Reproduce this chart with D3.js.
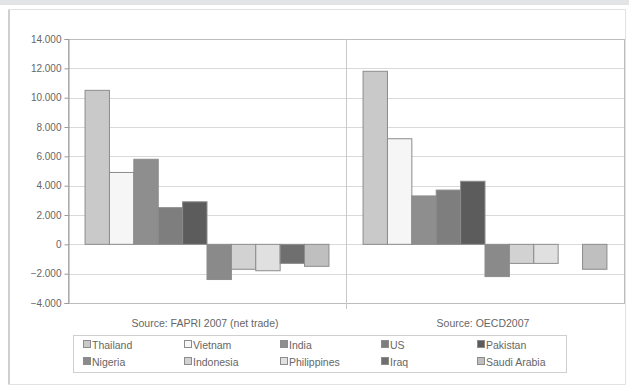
<!DOCTYPE html>
<html>
<head>
<meta charset="utf-8">
<script src="https://cdn.jsdelivr.net/npm/d3@7/dist/d3.min.js"></script>
<style>
  html, body { margin: 0; padding: 0; background: #ffffff; }
  svg { display: block; font-family: Arial, "Liberation Sans", sans-serif; }
</style>
</head>
<body>
<svg id="chart" width="629" height="390"></svg>
<script>
// Rice net trade by country, two sources (thousand tonnes)
const sources = ["Source: FAPRI 2007 (net trade)", "Source: OECD2007"];
const countries = ["Thailand", "Vietnam", "India", "US", "Pakistan",
                   "Nigeria", "Indonesia", "Philippines", "Iraq", "Saudi Arabia"];
const fapri = [10500, 4900, 5800, 2500, 2900, -2400, -1700, -1800, -1300, -1500];
const oecd  = [11800, 7200, 3300, 3700, 4300, -2200, -1300, -1300, null, -1700];
const yTicks = [-4000, -2000, 0, 2000, 4000, 6000, 8000, 10000, 12000, 14000];
const fills = ["#c9c9c9", "#f6f6f6", "#8e8e8e", "#7e7e7e", "#5c5c5c",
               "#8a8a8a", "#d2d2d2", "#e0e0e0", "#6f6f6f", "#bfbfbf"];

const svg = d3.select("#chart");

// page frame
svg.append("rect").attr("x", 0).attr("y", 0).attr("width", 629).attr("height", 5).attr("fill", "#e3e4e6");
svg.append("rect").attr("x", 8.5).attr("y", 9.5).attr("width", 617).attr("height", 375)
  .attr("fill", "#ffffff").attr("stroke", "#e2e2e2").attr("stroke-width", 1);
svg.append("line").attr("x1", 9).attr("x2", 9).attr("y1", 10).attr("y2", 384)
  .attr("stroke", "#cfcfcf").attr("stroke-width", 2);

const plot = { left: 68, right: 624, top: 39, bottom: 303 };

const y = d3.scaleLinear().domain([-4000, 14000]).range([plot.bottom, plot.top]);
const x0 = d3.scaleBand().domain(sources).range([plot.left, plot.right]).paddingInner(0).paddingOuter(0);
const x1 = d3.scaleBand().domain(countries).range([0, x0.bandwidth()]).paddingInner(0).paddingOuter(0.7);

const fmt = v => d3.format(",")(v).replace(/,/g, ".");

// gridlines
svg.append("g").selectAll("line").data(yTicks).join("line")
  .attr("x1", plot.left).attr("x2", plot.right)
  .attr("y1", d => Math.round(y(d)) + 0.5).attr("y2", d => Math.round(y(d)) + 0.5)
  .attr("stroke", "#d9d9d9").attr("stroke-width", 1);

// plot frame and group divider
svg.append("rect").attr("x", plot.left + 0.5).attr("y", plot.top + 0.5)
  .attr("width", plot.right - plot.left).attr("height", plot.bottom - plot.top)
  .attr("fill", "none").attr("stroke", "#bdbdbd");
svg.append("line")
  .attr("x1", x0(sources[1]) + 0.5).attr("x2", x0(sources[1]) + 0.5)
  .attr("y1", plot.top).attr("y2", plot.bottom + 6)
  .attr("stroke", "#c8c8c8");

// y axis
const yAxis = d3.axisLeft(y).tickValues(yTicks).tickFormat(fmt).tickSize(4).tickPadding(3);
const ga = svg.append("g").attr("transform", `translate(${plot.left + 0.5},0)`).call(yAxis);
ga.select(".domain").attr("stroke", "#9a9a9a");
ga.selectAll(".tick line").attr("stroke", "#9a9a9a");
ga.selectAll(".tick text").attr("fill", "#666").style("font-size", "10px")
  .style("font-family", "Arial, 'Liberation Sans', sans-serif");

// bars
const data = [fapri, oecd];
sources.forEach((s, gi) => {
  const g = svg.append("g").attr("transform", `translate(${x0(s)},0)`);
  g.selectAll("rect").data(countries.map((c, i) => ({ c, i, v: data[gi][i] })).filter(d => d.v != null))
    .join("rect")
    .attr("x", d => x1(d.c))
    .attr("y", d => y(Math.max(0, d.v)))
    .attr("width", x1.bandwidth())
    .attr("height", d => Math.abs(y(d.v) - y(0)))
    .attr("fill", d => fills[d.i])
    .attr("stroke", "#8c8c8c").attr("stroke-width", 1);
});

// source captions
svg.append("g").selectAll("text").data(sources).join("text")
  .attr("x", d => x0(d) + x0.bandwidth() / 2 - 2)
  .attr("y", 327)
  .attr("text-anchor", "middle")
  .attr("fill", "#666").style("font-size", "10.5px")
  .text(d => d);

// legend
svg.append("rect").attr("x", 73.5).attr("y", 335.5).attr("width", 493).attr("height", 37)
  .attr("fill", "#ffffff").attr("stroke", "#cfcfcf");
const colX = [83, 184, 280, 381, 477];
const legend = svg.append("g").selectAll("g").data(countries).join("g")
  .attr("transform", (d, i) => `translate(${colX[i % 5]},${i < 5 ? 345 : 362})`);
legend.append("rect").attr("x", 0.5).attr("y", -4.5).attr("width", 7).attr("height", 7)
  .attr("fill", (d, i) => fills[i]).attr("stroke", "#8c8c8c");
legend.append("text").attr("x", 9).attr("y", 3.5)
  .attr("fill", "#666").style("font-size", "10.5px")
  .text(d => d);
</script>
</body>
</html>
